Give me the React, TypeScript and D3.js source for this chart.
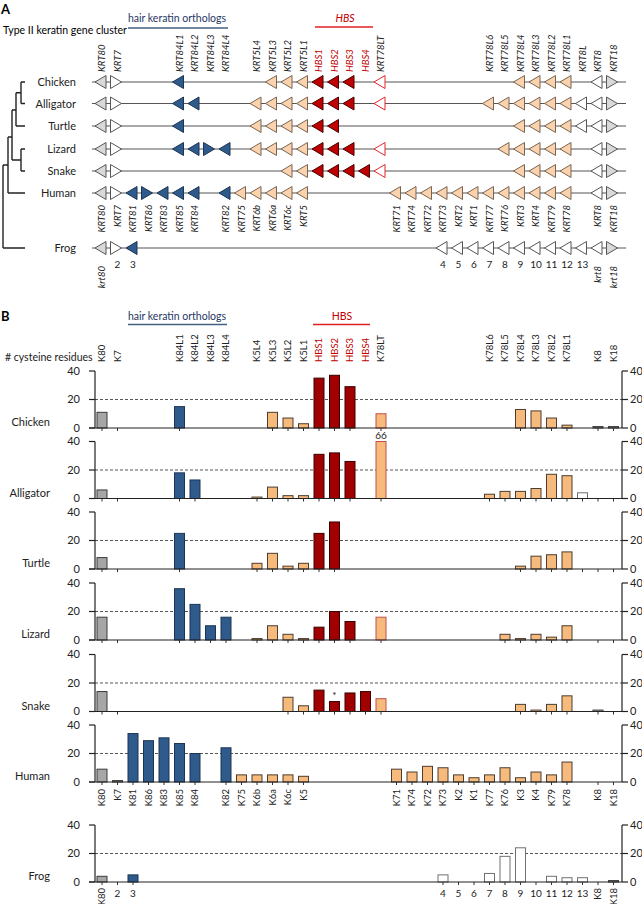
import React from 'react';
import * as d3 from 'd3';

const N = null;
const SPECIES = ['Chicken', 'Alligator', 'Turtle', 'Lizard', 'Snake', 'Human', 'Frog'];

// Panel A: gene orientation per slot ('<' left, '>' right, '.' none)
const geneA_Chicken = ['<>', '...', '<', '.....', '<<<', '<<<', '.', '<', '........', '<<<<', '.', '<>'].join('');
const geneA_Alligator = ['<>', '...', '<<', '...', '<<<<', '<<<', '.', '<', '......', '<<<<<<', '<<', '>'].join('');
const geneA_Turtle = ['<>', '...', '<', '....', '<<<<', '<<', '...........', '<<<<', '<<', '>'].join('');
const geneA_Lizard = ['<>', '...', '<<><', '.', '<<<<', '<<<', '.', '<', '.......', '<<<<<', '.', '<>'].join('');
const geneA_Snake = ['<>', '..........', '<<', '<<<<', '<', '........', '<<<<', '.', '<>'].join('');
const geneA_Human = ['<>', '<><<<', '.', '<', '<<<<<', '.....', '<<<<<<<<<<<<', '.', '<>'].join('');
const geneA_Frog = ['<><', '...................', '<<<<<<<<<<', '<>'].join('');
const genesA = [geneA_Chicken, geneA_Alligator, geneA_Turtle, geneA_Lizard, geneA_Snake, geneA_Human, geneA_Frog];

// Panel B: cysteine residues per slot
const cysChicken = [11, 0, N, N, N, 15, N, N, N, N, N, 11, 7, 3, 35, 37, 29, N, 10, N, N, N, N, N, N, N, N, 13, 12, 7, 2, N, 1, 1];
const cysAlligator = [6, 0, N, N, N, 18, 13, N, N, N, 1, 8, 2, 2, 31, 32, 26, N, 66, N, N, N, N, N, N, 3, 5, 5, 7, 17, 16, 4, 0, 0];
const cysTurtle = [8, 0, N, N, N, 25, N, N, N, N, 4, 11, 2, 4, 25, 33, N, N, N, N, N, N, N, N, N, N, N, 2, 9, 10, 12, 0, 0, 0];
const cysLizard = [16, 0, N, N, N, 36, 25, 10, 16, N, 1, 10, 4, 1, 9, 20, 13, N, 16, N, N, N, N, N, N, N, 4, 1, 4, 2, 10, N, 0, 0];
const cysSnake = [14, 0, N, N, N, N, N, N, N, N, N, N, 10, 4, 15, 7, 13, 14, 9, N, N, N, N, N, N, N, N, 5, 1, 5, 11, N, 1, 0];
const cysHuman = [9, 1, 34, 29, 31, 27, 20, N, 24, 5, 5, 5, 5, 4, N, N, N, N, N, 9, 7, 11, 10, 5, 3, 5, 10, 3, 7, 5, 14, N, 0, 0];
const cysFrog = [4, 0, 5, N, N, N, N, N, N, N, N, N, N, N, N, N, N, N, N, N, N, N, 5, 0, 0, 6, 18, 24, 0, 4, 3, 3, 0, 1];
const cysAll = [cysChicken, cysAlligator, cysTurtle, cysLizard, cysSnake, cysHuman, cysFrog];

// gene classes per slot
const slotClass = ['gray', 'gray', 'blue', 'blue', 'blue', 'blue', 'blue', 'blue', 'blue',
  'orange', 'orange', 'orange', 'orange', 'orange', 'red', 'red', 'red', 'red', 'lt',
  'orange', 'orange', 'orange', 'orange', 'orange', 'orange', 'orange', 'orange', 'orange', 'orange', 'orange', 'orange',
  'white', 'gray', 'gray'];

// labels
const topSlots = [0, 1, 5, 6, 7, 8, 10, 11, 12, 13, 14, 15, 16, 17, 18, 25, 26, 27, 28, 29, 30, 31, 32, 33];
const topNames = ['80', '7', '84L1', '84L2', '84L3', '84L4', '5L4', '5L3', '5L2', '5L1', 'HBS1', 'HBS2', 'HBS3', 'HBS4', '78LT',
  '78L6', '78L5', '78L4', '78L3', '78L2', '78L1', '8L', '8', '18'];
const humanSlots = [0, 1, 2, 3, 4, 5, 6, 8, 9, 10, 11, 12, 13, 19, 20, 21, 22, 23, 24, 25, 26, 27, 28, 29, 30, 32, 33];
const humanNames = ['80', '7', '81', '86', '83', '85', '84', '82', '75', '6b', '6a', '6c', '5', '71', '74', '72', '73', '2', '1', '77', '76', '3', '4', '79', '78', '8', '18'];
const frogNumSlots = [1, 2, 22, 23, 24, 25, 26, 27, 28, 29, 30, 31];
const frogNumNames = ['2', '3', '4', '5', '6', '7', '8', '9', '10', '11', '12', '13'];
const frogRotSlots = [0, 32, 33];
const frogRotNames = ['80', '8', '18'];
const yTicks = [0, 20, 40];

const FONT = 'Lato, "Open Sans", sans-serif';
const RED_TXT = '#c00000';

const A_FILL: Record<string, [string, string]> = {
  gray: ['#d9d9d9', '#555'], white: ['#ffffff', '#555'], blue: ['#2f5b8c', '#1c3553'],
  orange: ['#fbd2ae', '#7a6552'], red: ['#c00000', '#4a0000'], lt: ['#ffffff', '#e3262b'],
};
const B_FILL: Record<string, [string, string]> = {
  gray: ['#a6a6a6', '#3a3a3a'], white: ['#ffffff', '#707070'], blue: ['#2f5b8c', '#1c3553'],
  orange: ['#f5ba7c', '#4d3d2e'], red: ['#a00000', '#3a0000'], lt: ['#f5ba7c', '#c0504d'],
};

export default function App() {
  const x = d3.scalePoint<number>().domain(d3.range(34)).range([102, 613.5]);
  const rowA = [82, 103.5, 126, 149, 171, 193, 248];
  const zeroB = [428, 498.5, 569, 640, 711.5, 782, 882];
  const HB = 57;

  const classA = (si: number, s: number) => {
    if (si === 6 && s >= 22 && s <= 31) return 'white';
    if (s === 1) return 'white';
    if (s === 32) return 'white';
    if (s === 33) return 'gray';
    return slotClass[s];
  };
  const classB = (si: number, s: number) => {
    if (si === 6 && s >= 19 && s <= 32) return 'white';
    return slotClass[s];
  };

  const tri = (cx: number, cy: number, dir: string) => {
    const w = 11, h = 13;
    if (dir === '<') return `M${cx - w / 2},${cy}L${cx + w / 2},${cy - h / 2}L${cx + w / 2},${cy + h / 2}Z`;
    return `M${cx + w / 2},${cy}L${cx - w / 2},${cy - h / 2}L${cx - w / 2},${cy + h / 2}Z`;
  };

  // tree (panel A)
  const tl = 25;
  const treePaths = [
    `M21,${rowA[0]}H${tl}M21,${rowA[1]}H${tl}M21,${rowA[0]}V${rowA[1]}`,
    `M16,${(rowA[0] + rowA[1]) / 2}H21M16,${rowA[2]}H${tl}M16,${(rowA[0] + rowA[1]) / 2}V${rowA[2]}`,
    `M21,${rowA[3]}H${tl}M21,${rowA[4]}H${tl}M21,${rowA[3]}V${rowA[4]}`,
    `M12,110H16M12,${(rowA[3] + rowA[4]) / 2}H21M12,110V${(rowA[3] + rowA[4]) / 2}`,
    `M8,137H12M8,${rowA[5]}H${tl}M8,137V${rowA[5]}`,
    `M3,165H8M3,${rowA[6]}H${tl}M3,165V${rowA[6]}`,
  ];

  return (
    <svg width={642} height={904} style={{ position: 'absolute', left: 0, top: 0, background: '#fff' }} fontFamily={FONT}>
      {/* ---------- Panel A ---------- */}
      <text x={1} y={14} fontSize={13} fontWeight="bold">A</text>
      <text x={3} y={34} fontSize={10.5}>Type II keratin gene cluster</text>
      <text x={177} y={22} fontSize={10.5} textAnchor="middle" fill="#1f3864">hair keratin orthologs</text>
      <line x1={128} x2={228} y1={28} y2={28} stroke="#44607f" strokeWidth={1.5} />
      <text x={345} y={22} fontSize={10.5} textAnchor="middle" fill={RED_TXT} fontStyle="italic">HBS</text>
      <line x1={315} x2={373} y1={27} y2={27} stroke="#e02020" strokeWidth={1.3} />

      {topSlots.map((s, i) => (
        <text key={'ta' + i} transform={`translate(${x(s)},72) rotate(-90)`} dy="0.35em" fontSize={9.5} fontStyle="italic"
          fill={s >= 14 && s <= 17 ? RED_TXT : '#222'}>{topNames[i].startsWith('HBS') ? topNames[i] : 'KRT' + topNames[i]}</text>
      ))}
      {humanSlots.map((s, i) => (
        <text key={'ha' + i} transform={`translate(${x(s)},205) rotate(-90)`} dy="0.35em" fontSize={9.5} fontStyle="italic" textAnchor="end" fill="#222">{'KRT' + humanNames[i]}</text>
      ))}
      {frogNumSlots.map((s, i) => (
        <text key={'fn' + i} x={x(s)} y={268} fontSize={10} textAnchor="middle" fill="#222">{frogNumNames[i]}</text>
      ))}
      {frogRotSlots.map((s, i) => (
        <text key={'fr' + i} transform={`translate(${x(s)},266) rotate(-90)`} dy="0.35em" fontSize={9.5} fontStyle="italic" textAnchor="end" fill="#222">{'krt' + frogRotNames[i]}</text>
      ))}

      {treePaths.map((p, i) => <path key={'tp' + i} d={p} stroke="#222" strokeWidth={1.4} fill="none" />)}

      {SPECIES.map((sp, si) => (
        <g key={'ra' + si}>
          <text x={76} y={rowA[si] + 4} fontSize={11} textAnchor="end" fill="#222">{sp}</text>
          <line x1={92} x2={626} y1={rowA[si]} y2={rowA[si]} stroke="#555" strokeWidth={1.2} />
          {genesA[si].split('').map((d, s) => {
            if (d === '.') return null;
            const [f, st] = A_FILL[classA(si, s)];
            return <path key={s} d={tri((x(s) as number) - 1.5, rowA[si], d)} fill={f} stroke={st} strokeWidth={1} />;
          })}
        </g>
      ))}

      {/* ---------- Panel B ---------- */}
      <text x={1} y={321} fontSize={13} fontWeight="bold">B</text>
      <text x={177} y={320} fontSize={10.5} textAnchor="middle" fill="#1f3864">hair keratin orthologs</text>
      <line x1={128} x2={227} y1={324.5} y2={324.5} stroke="#44607f" strokeWidth={1.3} />
      <text x={342} y={320} fontSize={10.5} textAnchor="middle" fill={RED_TXT}>HBS</text>
      <line x1={313} x2={370} y1={324.5} y2={324.5} stroke="#e02020" strokeWidth={1.3} />
      <text x={5} y={361} fontSize={10.5} fill="#222"># cysteine residues</text>

      {topSlots.filter(s => s !== 31).map((s) => {
        const i = topSlots.indexOf(s);
        const nm = topNames[i];
        return (
          <text key={'tb' + s} transform={`translate(${x(s)},362) rotate(-90)`} dy="0.35em" fontSize={9.5}
            fill={s >= 14 && s <= 17 ? RED_TXT : '#222'}>{nm.startsWith('HBS') ? nm : 'K' + nm}</text>
        );
      })}
      {humanSlots.map((s, i) => (
        <text key={'hb' + i} transform={`translate(${x(s)},789) rotate(-90)`} dy="0.35em" fontSize={9.5} textAnchor="end" fill="#222">{'K' + humanNames[i]}</text>
      ))}
      {frogNumSlots.map((s, i) => (
        <text key={'fbn' + i} x={x(s)} y={897} fontSize={10} textAnchor="middle" fill="#222">{frogNumNames[i]}</text>
      ))}
      {frogRotSlots.map((s, i) => (
        <text key={'fbr' + i} transform={`translate(${x(s)},888) rotate(-90)`} dy="0.35em" fontSize={9.5} textAnchor="end" fill="#222">{'K' + frogRotNames[i]}</text>
      ))}

      {SPECIES.map((sp, si) => {
        const z = zeroB[si];
        const y = d3.scaleLinear().domain([0, 40]).range([z, z - HB]).clamp(true);
        const vals = cysAll[si];
        return (
          <g key={'rb' + si}>
            <text x={50} y={z - 2} fontSize={11} textAnchor="end" fill="#222">{sp}</text>
            <line x1={95} x2={622} y1={y(20)} y2={y(20)} stroke="#444" strokeDasharray="3,2" strokeWidth={0.9} />
            {vals.map((v, s) => {
              if (v === null) return null;
              const cx = x(s) as number;
              const cls = classB(si, s);
              const [f, st] = B_FILL[cls];
              return (
                <g key={s}>
                  <line x1={cx} x2={cx} y1={z} y2={z + 3} stroke="#333" strokeWidth={1} />
                  {v > 0 && (
                    <rect x={cx - 5} y={y(v)} width={10} height={z - y(v)} fill={f} stroke={st} strokeWidth={1} />
                  )}
                  {v > 40 && <text x={cx} y={y(40) - 3} fontSize={10} textAnchor="middle" fill="#222">{v}</text>}
                  {si === 4 && s === 15 && <text x={cx} y={y(v) - 3} fontSize={10} textAnchor="middle" fill="#222">*</text>}
                </g>
              );
            })}
            <line x1={89} x2={622} y1={z} y2={z} stroke="#222" strokeWidth={1.2} />
            <line x1={95} x2={95} y1={y(40)} y2={z} stroke="#222" strokeWidth={1.2} />
            <line x1={622} x2={622} y1={y(40)} y2={z} stroke="#222" strokeWidth={1.2} />
            {yTicks.map(t => (
              <g key={'yt' + t}>
                <line x1={89} x2={95} y1={y(t)} y2={y(t)} stroke="#222" strokeWidth={1.2} />
                <line x1={622} x2={628} y1={y(t)} y2={y(t)} stroke="#222" strokeWidth={1.2} />
                <text x={80} y={y(t)} dy="0.35em" fontSize={11} textAnchor="end" fill="#222">{t}</text>
                <text x={630} y={y(t)} dy="0.35em" fontSize={11} fill="#222">{t}</text>
              </g>
            ))}
          </g>
        );
      })}
    </svg>
  );
}
